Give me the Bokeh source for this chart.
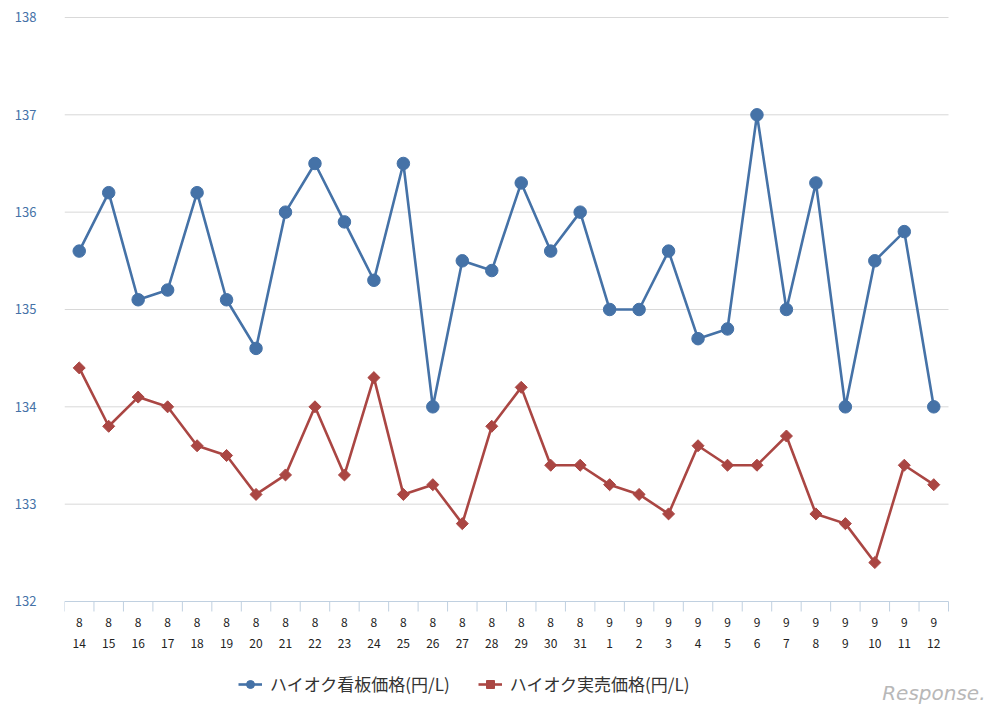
import math
from bokeh.plotting import figure
from bokeh.models import (FixedTicker, Legend, LegendItem, Label, Range1d, ColumnDataSource)
from bokeh.core.properties import value
from bokeh.embed import file_html
from bokeh.resources import INLINE

months = ["8"] * 18 + ["9"] * 12
days = [str(d) for d in range(14, 32)] + [str(d) for d in range(1, 13)]
signboard = [135.6, 136.2, 135.1, 135.2, 136.2, 135.1, 134.6, 136.0, 136.5, 135.9,
             135.3, 136.5, 134.0, 135.5, 135.4, 136.3, 135.6, 136.0, 135.0, 135.0,
             135.6, 134.7, 134.8, 137.0, 135.0, 136.3, 134.0, 135.5, 135.8, 134.0]
actual = [134.4, 133.8, 134.1, 134.0, 133.6, 133.5, 133.1, 133.3, 134.0, 133.3,
          134.3, 133.1, 133.2, 132.8, 133.8, 134.2, 133.4, 133.4, 133.2, 133.1,
          132.9, 133.6, 133.4, 133.4, 133.7, 132.9, 132.8, 132.4, 133.4, 133.2]
series_names = ["ハイオク看板価格(円/L)", "ハイオク実売価格(円/L)"]
y_ticks = [132, 133, 134, 135, 136, 137, 138]

n = len(days)
xs = [i + 0.5 for i in range(n)]
bounds = list(range(n + 1))

FONT = "Noto Sans CJK JP"
BLUE = "#4572A7"
RED = "#AA4643"
AXIS = "#C0D0E0"
GRID = "#D8D8D8"

# layout: plot band from 138 (y=17px) to 132 (y=601px), x from 64px to 948px;
# the frame itself runs to the page edges so that legend and watermark fit in it
W, H = 998, 716
LEFT, RIGHT, TOP, AXIS_Y = 64, 948, 17, 601
y_min, y_max = y_ticks[0], y_ticks[-1]
ppu = (AXIS_Y - TOP) / (y_max - y_min)
y_start = y_min - (H - AXIS_Y) / ppu
x_end = n * (W - LEFT) / (RIGHT - LEFT)

p = figure(width=W, height=H, output_backend="svg", toolbar_location=None,
           x_range=Range1d(0, x_end), y_range=Range1d(y_start, y_max + 0.01),
           x_axis_location=None,
           min_border_left=LEFT, min_border_right=0, min_border_top=TOP - 1,
           min_border_bottom=0)
p.outline_line_color = None
p.xgrid.visible = False
p.ygrid.visible = False

# horizontal grid lines limited to the category span
grid_y = y_ticks[1:]
p.segment(x0=[0] * len(grid_y), y0=grid_y, x1=[n] * len(grid_y), y1=grid_y,
          line_color=GRID, line_width=1)

src = ColumnDataSource(dict(x=xs, s=signboard, a=actual, m=months, d=days,
                            base=[y_min] * n))
l1 = p.line("x", "s", source=src, line_color=BLUE, line_width=2.6)
m1 = p.scatter("x", "s", source=src, marker="circle", size=12.5,
               fill_color=BLUE, line_color=BLUE)
l2 = p.line("x", "a", source=src, line_color=RED, line_width=2.6)
m2 = p.scatter("x", "a", source=src, marker="square", size=8.5, angle=math.pi / 4,
               fill_color=RED, line_color=RED)

# x axis line, tick marks between categories, two-line labels
p.segment(x0=[0], y0=[y_min], x1=[n], y1=[y_min], line_color=AXIS, line_width=1)
p.segment(x0=bounds, y0=[y_min] * len(bounds), x1=bounds,
          y1=[y_min - 10 / ppu] * len(bounds), line_color=AXIS, line_width=1)
p.text(x="x", y="base", text="m", source=src, text_font=value(FONT),
       text_font_size="12px", text_color="#222222", text_align="center",
       text_baseline="middle", y_offset=21)
p.text(x="x", y="base", text="d", source=src, text_font=value(FONT),
       text_font_size="12px", text_color="#222222", text_align="center",
       text_baseline="middle", y_offset=42)

# y axis
p.yaxis.ticker = FixedTicker(ticks=y_ticks)
p.yaxis.axis_line_color = None
p.yaxis.major_tick_line_color = None
p.yaxis.minor_tick_line_color = None
p.yaxis.major_label_text_color = BLUE
p.yaxis.major_label_text_font = FONT
p.yaxis.major_label_text_font_size = "13px"
p.yaxis.major_label_standoff = 22

legend = Legend(items=[LegendItem(label=series_names[0], renderers=[l1, m1]),
                       LegendItem(label=series_names[1], renderers=[l2, m2])],
                orientation="horizontal", location=(174, 20),
                label_text_font=FONT, label_text_font_size="17px",
                label_text_color="#333333", border_line_color=None,
                background_fill_alpha=0, spacing=28, padding=0, margin=0,
                glyph_width=24, glyph_height=20, label_standoff=8)
p.add_layout(legend, "center")

wm = Label(x=921, y=12, x_units="screen", y_units="screen", text="Response.",
           text_font="DejaVu Sans", text_font_size="20px", text_color="#B8B8B8",
           text_align="right", text_baseline="bottom", text_font_style="italic")
p.add_layout(wm)

open("out.html", "w").write(file_html(p, INLINE))
